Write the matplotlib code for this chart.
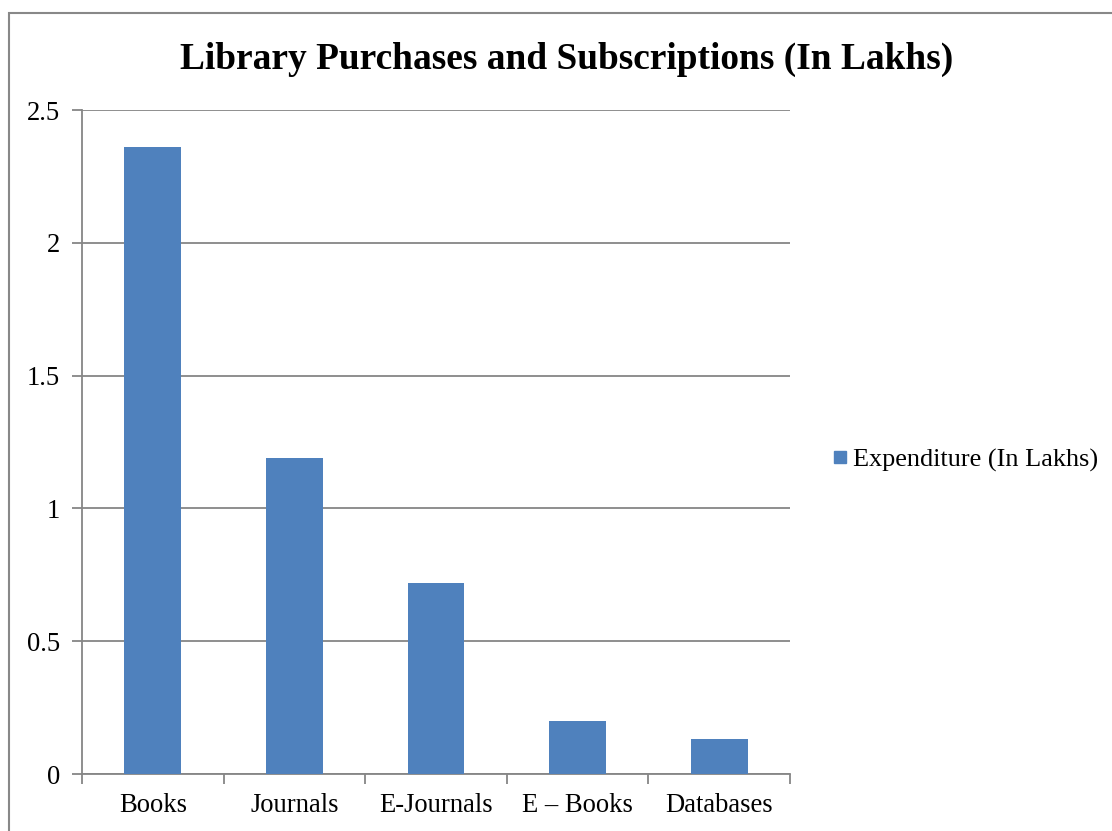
import matplotlib
matplotlib.use("Agg")
import matplotlib.pyplot as plt
from matplotlib.patches import Rectangle
from matplotlib.lines import Line2D
import numpy as np

categories = ["Books", "Journals", "E-Journals", "E \u2013 Books", "Databases"]
values = [2.36, 1.19, 0.72, 0.20, 0.13]
series_name = "Expenditure (In Lakhs)"
title = "Library Purchases and Subscriptions (In Lakhs)"
yticks = [0, 0.5, 1, 1.5, 2, 2.5]
ytick_labels = ["0", "0.5", "1", "1.5", "2", "2.5"]

plt.rcParams['font.family'] = ['Liberation Serif', 'DejaVu Serif']

W, H = 1112, 831
fig = plt.figure(figsize=(W / 100, H / 100), dpi=100)

# outer border (cut off at right & bottom)
fig.patches.append(Rectangle((9 / W, -0.05), 1.2, 1 - 13 / H + 0.05, transform=fig.transFigure,
                             fill=False, edgecolor='#888888', linewidth=1.5))

ax = fig.add_axes([82 / W, (H - 774) / H, (790 - 82) / W, (774 - 110) / H])
grey = '#868686'
x = np.arange(len(categories))
ax.bar(x, values, width=0.4, color='#4F81BD', label=series_name, zorder=3)
ax.set_xlim(-0.5, len(categories) - 0.5)
ax.set_ylim(0, 2.5)
ax.set_yticks(yticks)
ax.set_yticklabels(ytick_labels, fontsize=19.2)
ax.set_xticks(x)
ax.set_xticklabels(categories, fontsize=19.2)
ax.tick_params(axis='x', length=0, pad=14)
ax.set_xticks(np.arange(len(categories) + 1) - 0.5, minor=True)
ax.tick_params(axis='x', which='minor', length=7, color=grey, width=1.3)
ax.tick_params(axis='y', length=7, color=grey, width=1.3, pad=9)
for s in ['top', 'right']:
    ax.spines[s].set_visible(False)
for s in ['left', 'bottom']:
    ax.spines[s].set_color(grey)
    ax.spines[s].set_linewidth(1.3)
ax.yaxis.grid(True, color=grey, linewidth=1.3, zorder=0)
ax.set_axisbelow(True)

fig.text(567 / W, 1 - 59 / H, title, ha='center', va='center', fontsize=26.9, fontweight='bold')

handle = Line2D([], [], marker='s', linestyle='none', markersize=9,
                markerfacecolor='#4F81BD', markeredgecolor='#4F81BD')
fig.legend([handle], [series_name], loc='center left', bbox_to_anchor=(827 / W, 1 - 460 / H),
           frameon=False, fontsize=18.9, handletextpad=0.0, handlelength=1.0, borderpad=0, borderaxespad=0)

fig.savefig("out.png", dpi=100)
